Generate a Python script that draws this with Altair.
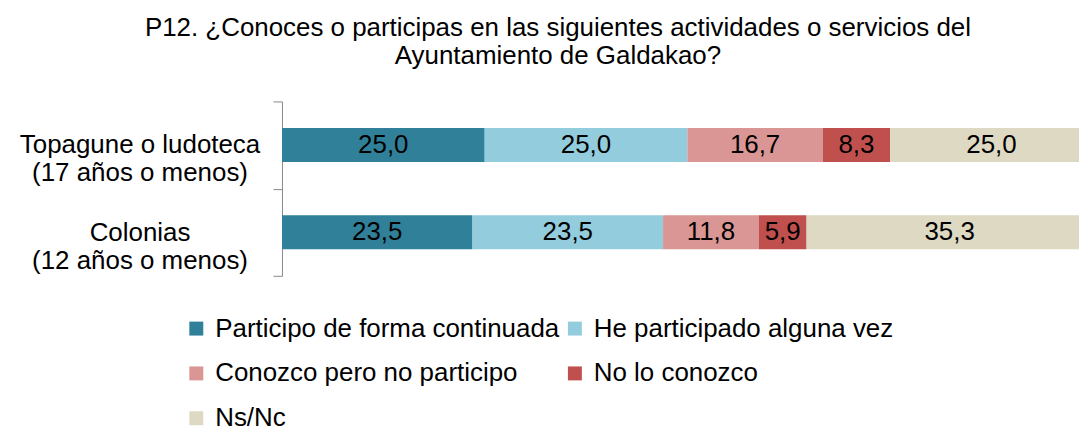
import altair as alt
import pandas as pd

categories = ["Topagune o ludoteca\n(17 años o menos)", "Colonias\n(12 años o menos)"]
series = ["Participo de forma continuada", "He participado alguna vez",
          "Conozco pero no participo", "No lo conozco", "Ns/Nc"]
colors = ["#31809A", "#93CDDD", "#D99694", "#C0504D", "#DDD9C3"]
values_topagune = [25.0, 25.0, 16.7, 8.3, 25.0]
values_colonias = [23.5, 23.5, 11.8, 5.9, 35.3]

rows = []
for cat, vals in zip(categories, [values_topagune, values_colonias]):
    for i, (s, v) in enumerate(zip(series, vals)):
        rows.append({"cat": cat, "serie": s, "order": i, "value": v,
                     "label": f"{v:.1f}".replace(".", ",")})
df = pd.DataFrame(rows)

FONT = "Liberation Sans"
FS = 26

y_enc = alt.Y("cat:N", sort=categories, title=None,
              scale=alt.Scale(paddingInner=0, paddingOuter=0),
              axis=alt.Axis(labelExpr="split(datum.label, '\\n')",
                            labelFont=FONT, labelFontSize=FS, labelColor="#000000",
                            labelAlign="center", labelLineHeight=28,
                            labelPadding=134,
                            tickBand="extent", tickSize=9, tickColor="#898989",
                            domainColor="#898989", labelLimit=0))

xscale = alt.Scale(domain=[0, 98.3])

bars = alt.Chart(df).mark_bar(size=34, clip=True).encode(
    y=y_enc,
    x=alt.X("sum(value):Q", stack="zero", scale=xscale, axis=None),
    color=alt.Color("serie:N", sort=series,
                    scale=alt.Scale(domain=series, range=colors),
                    legend=alt.Legend(title=None, orient="none", legendX=-99, legendY=215,
                                      direction="horizontal", columns=2,
                                      symbolType="square", symbolSize=196,
                                      symbolStrokeWidth=0, labelFont=FONT,
                                      labelFontSize=FS, labelColor="#000000",
                                      labelLimit=0, rowPadding=19, columnPadding=2,
                                      labelOffset=6)),
    order=alt.Order("order:Q"),
)

text = alt.Chart(df).transform_stack(
    stack="value", groupby=["cat"], sort=[alt.SortField("order")], as_=["x0", "x1"]
).transform_calculate(mid="(datum.x0 + datum.x1) / 2").mark_text(
    font=FONT, fontSize=FS, color="#000000"
).encode(
    y=alt.Y("cat:N", sort=categories),
    x=alt.X("mid:Q", scale=xscale),
    text="label:N",
)

chart = alt.layer(bars, text).properties(
    width=800, height=175,
    padding={"left": 275, "top": 93, "right": 0, "bottom": 152},
    autosize=alt.AutoSizeParams(type="none"),
    title=alt.TitleParams(
        ["P12. ¿Conoces o participas en las siguientes actividades o servicios del",
         "Ayuntamiento de Galdakao?"],
        font=FONT, fontSize=FS, fontWeight="normal", color="#000000",
        anchor="middle", dx=-123, offset=20, lineHeight=28),
).configure_view(stroke=None)

chart.save("out.html", embed_options={"renderer": "svg", "actions": False})
